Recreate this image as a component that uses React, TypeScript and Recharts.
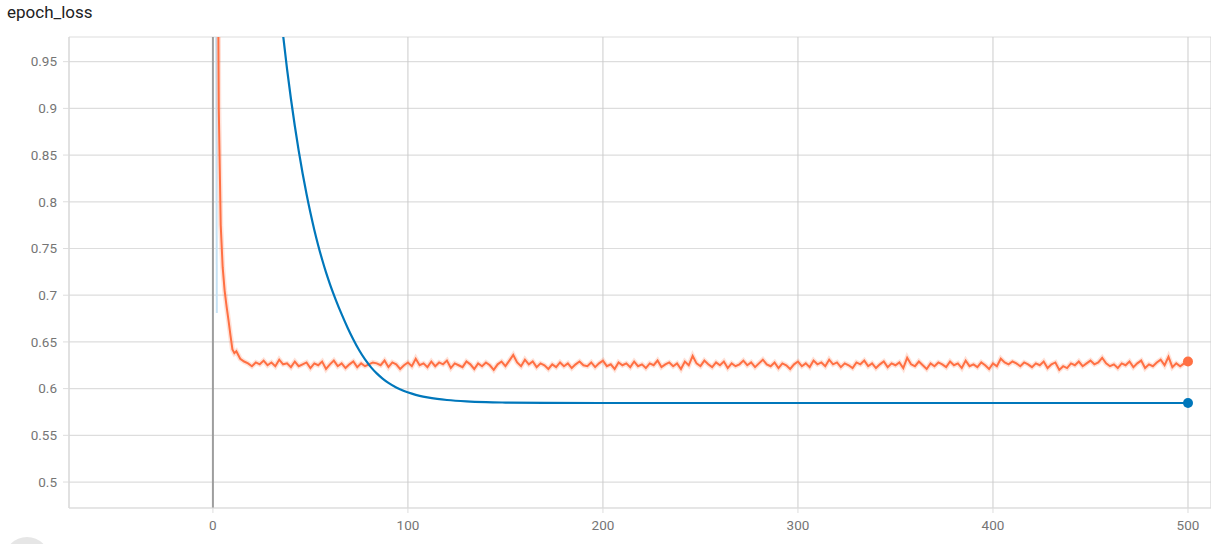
import React from "react";
import {
  CartesianGrid,
  Line,
  LineChart,
  ReferenceLine,
  XAxis,
  YAxis,
} from "recharts";

const xTicks = [0, 100, 200, 300, 400, 500];
const yTicks = [0.5, 0.55, 0.6, 0.65, 0.7, 0.75, 0.8, 0.85, 0.9, 0.95];

// blue run (smoothed)
const blueSteps = [
  0, 10, 20, 30, 33, 36, 38, 40, 42, 44, 46, 48, 50, 52, 54, 56, 58, 60, 63, 66,
  69, 72, 75, 78, 81, 84, 87, 90, 94, 98, 102, 106, 110, 115, 120, 130, 140,
  150, 170, 200, 250, 300, 400, 500,
];
const blueLoss = [
  2.6, 1.9, 1.45, 1.105, 1.037, 0.978, 0.9424, 0.9103, 0.8811, 0.8545, 0.8303,
  0.8083, 0.7882, 0.7699, 0.7533, 0.7382, 0.7244, 0.7119, 0.6951, 0.6797,
  0.6655, 0.6526, 0.641, 0.6312, 0.623, 0.6163, 0.6108, 0.6062, 0.6013,
  0.5975, 0.5946, 0.5923, 0.5906, 0.589, 0.5878, 0.5863, 0.5855, 0.5851,
  0.5847, 0.5846, 0.5846, 0.5846, 0.5846, 0.5846,
];

// faint raw blue segment near step 0
const blueRawSteps = [1.5, 2];
const blueRawLoss = [1.2, 0.681];

// orange run: steep start, then noisy plateau every 2 steps from 14
const orangeHeadSteps = [0, 1, 2, 3, 4, 5, 6, 7, 8, 9, 10, 11, 12];
const orangeHeadLoss = [
  3.5, 2.2, 1.3, 0.9, 0.775, 0.73, 0.705, 0.688, 0.673, 0.657, 0.642, 0.638,
  0.64,
];
const orangeTailStart = 14;
const orangeTailLoss = [
  0.632, 0.629, 0.627, 0.624, 0.628, 0.626, 0.63, 0.625, 0.628, 0.624,
  0.631, 0.626, 0.627, 0.623, 0.629, 0.624, 0.626, 0.628, 0.622, 0.627,
  0.625, 0.629, 0.621, 0.626, 0.63, 0.624, 0.627, 0.622, 0.626, 0.629,
  0.623, 0.627, 0.624, 0.626, 0.628, 0.627, 0.625, 0.63, 0.623, 0.628,
  0.626, 0.621, 0.625, 0.628, 0.624, 0.632, 0.625, 0.627, 0.623, 0.629,
  0.624, 0.628, 0.626, 0.63, 0.622, 0.627, 0.625, 0.623, 0.629, 0.626,
  0.621, 0.627, 0.624, 0.628, 0.625, 0.62, 0.626, 0.629, 0.624, 0.63,
  0.636, 0.628, 0.624, 0.631, 0.626, 0.629, 0.623, 0.627, 0.625, 0.621,
  0.626, 0.623, 0.628, 0.624, 0.627, 0.622, 0.626, 0.629, 0.625, 0.624,
  0.628, 0.623, 0.627, 0.63, 0.624, 0.626, 0.621, 0.628, 0.625, 0.627,
  0.623, 0.629, 0.624, 0.626, 0.622, 0.627, 0.625, 0.63, 0.623, 0.626,
  0.628, 0.624, 0.627, 0.621, 0.629, 0.625, 0.635, 0.627, 0.624, 0.63,
  0.626, 0.623, 0.628, 0.625, 0.629, 0.622, 0.627, 0.624, 0.626, 0.63,
  0.625, 0.628, 0.623, 0.627, 0.631, 0.626, 0.624, 0.628, 0.622, 0.627,
  0.625, 0.621, 0.626, 0.629, 0.624, 0.627, 0.623, 0.63, 0.626, 0.628,
  0.624, 0.631, 0.626, 0.628, 0.623, 0.627, 0.625, 0.622, 0.628, 0.626,
  0.63, 0.624, 0.627, 0.622, 0.626, 0.629, 0.623, 0.627, 0.625, 0.628,
  0.622, 0.633, 0.626, 0.624, 0.629, 0.625, 0.621, 0.627, 0.624, 0.628,
  0.626, 0.623, 0.629, 0.625, 0.627, 0.622, 0.63, 0.624, 0.626, 0.623,
  0.628, 0.625, 0.621, 0.627, 0.624, 0.632, 0.628, 0.626, 0.629, 0.627,
  0.624, 0.628, 0.626, 0.623, 0.627, 0.625, 0.629, 0.622, 0.626, 0.628,
  0.62, 0.624, 0.622, 0.627, 0.625, 0.629, 0.624, 0.627, 0.63, 0.626,
  0.628, 0.633, 0.627, 0.624, 0.626, 0.622, 0.627, 0.625, 0.629, 0.623,
  0.627, 0.63, 0.622, 0.626, 0.624, 0.628, 0.631, 0.625, 0.634, 0.623,
  0.627, 0.624, 0.627, 0.629,
];

const BLUE = "#0077bb";
const ORANGE = "#ff7043";

const blueData = blueSteps.map((step, i) => ({ step, loss: blueLoss[i] }));
const blueRawData = blueRawSteps.map((step, i) => ({ step, loss: blueRawLoss[i] }));
const orangeData = [
  ...orangeHeadSteps.map((step, i) => ({ step, loss: orangeHeadLoss[i] })),
  ...orangeTailLoss.map((loss, i) => ({ step: orangeTailStart + i * 2, loss })),
];

const endDot = (count: number, color: string) => (props: any) => {
  if (props.index !== count - 1) return <g key={props.index} />;
  return <circle key={props.index} cx={props.cx} cy={props.cy} r={5} fill={color} />;
};

const tickStyle = { fill: "#757575", fontSize: 13.5, fontFamily: "Roboto" };

export default function App() {
  return (
    <div
      style={{
        position: "absolute",
        left: 0,
        top: 0,
        width: 1211,
        height: 544,
        overflow: "hidden",
        background: "#fff",
        fontFamily: "Roboto",
      }}
    >
      <div
        style={{
          position: "absolute",
          left: 7,
          top: 2,
          fontSize: 17,
          color: "#212121",
        }}
      >
        epoch_loss
      </div>
      <LineChart
        width={1211}
        height={544}
        margin={{ top: 37, right: 0, bottom: 0, left: 0 }}
      >
        <CartesianGrid vertical={false} stroke="#dddddd" strokeWidth={1.2} />
        <CartesianGrid horizontal={false} stroke="#cccccc" />
        <XAxis
          type="number"
          dataKey="step"
          domain={[-73.8, 511.8]}
          ticks={xTicks}
          allowDataOverflow
          height={36}
          stroke="#dddddd"
          tickSize={5}
          tickMargin={7}
          tick={tickStyle}
        />
        <YAxis
          type="number"
          dataKey="loss"
          domain={[0.4722, 0.9764]}
          ticks={yTicks}
          allowDataOverflow
          width={69}
          stroke="#dddddd"
          tickSize={6}
          tickMargin={6}
          tick={tickStyle}
          tickFormatter={(v: number) => String(Number(v.toFixed(2)))}
        />
        <ReferenceLine x={0} stroke="#9e9e9e" strokeWidth={2} />
        <Line
          data={blueRawData}
          dataKey="loss"
          stroke="#c6e2f5"
          strokeWidth={2}
          dot={false}
          isAnimationActive={false}
        />
        <Line
          data={orangeData}
          dataKey="loss"
          stroke={ORANGE}
          strokeOpacity={0.2}
          strokeWidth={5}
          dot={false}
          isAnimationActive={false}
        />
        <Line
          data={orangeData}
          dataKey="loss"
          stroke={ORANGE}
          strokeWidth={2}
          dot={endDot(orangeData.length, ORANGE)}
          isAnimationActive={false}
        />
        <Line
          data={blueData}
          dataKey="loss"
          type="monotone"
          stroke={BLUE}
          strokeWidth={2.2}
          dot={endDot(blueData.length, BLUE)}
          isAnimationActive={false}
        />
      </LineChart>
      <div
        style={{
          position: "absolute",
          left: 4,
          top: 537,
          width: 46,
          height: 46,
          borderRadius: "50%",
          background: "#e6e6e6",
        }}
      />
    </div>
  );
}
